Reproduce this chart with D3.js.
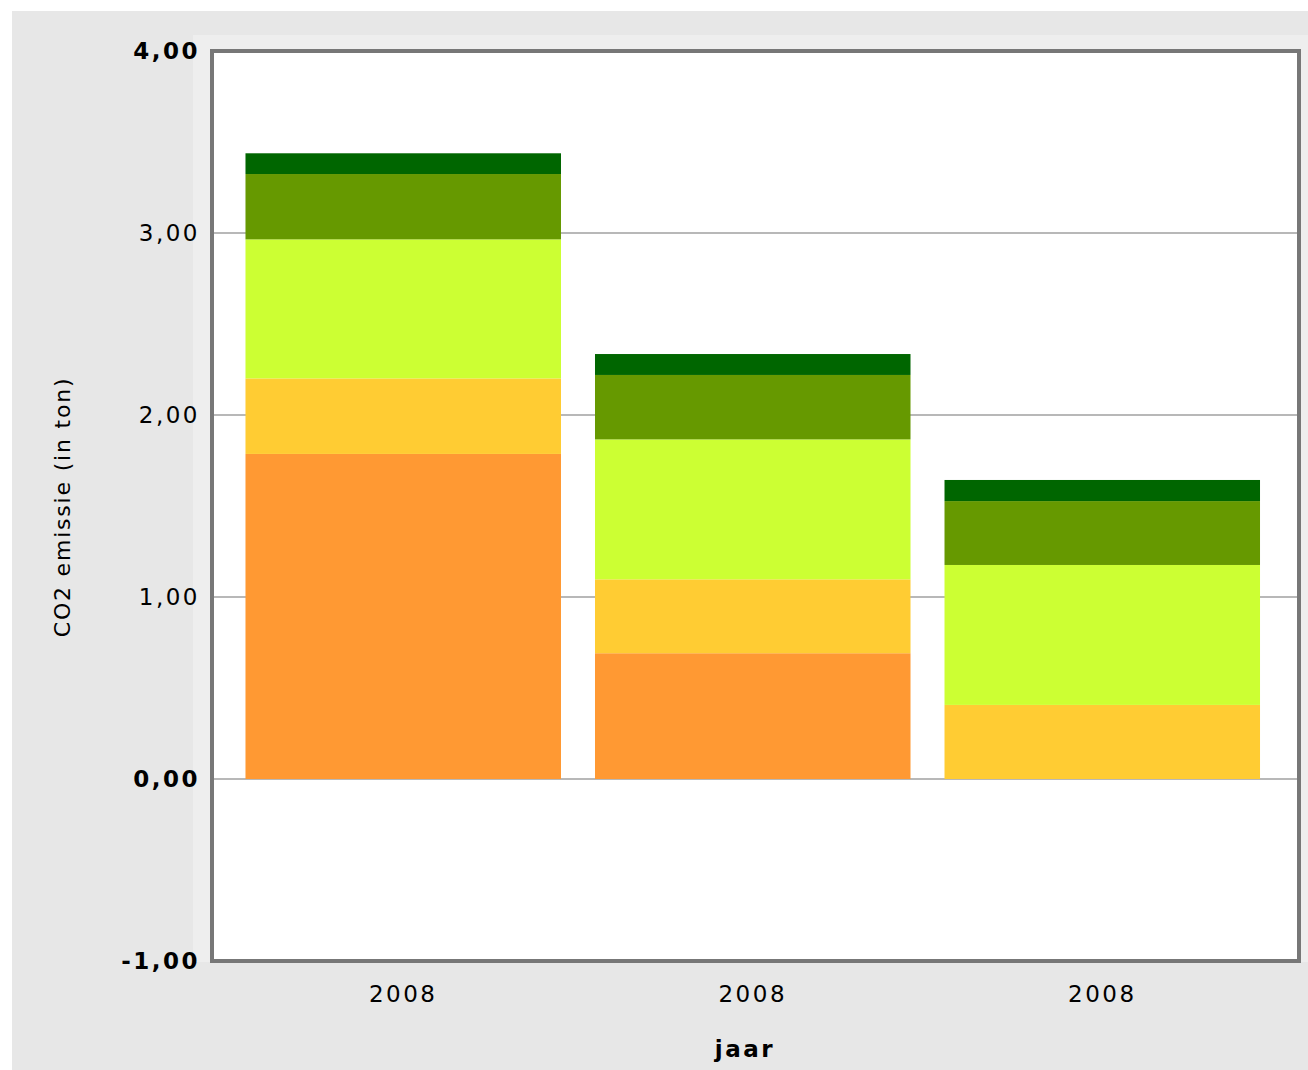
<!DOCTYPE html>
<html>
<head>
<meta charset="utf-8">
<script src="https://cdn.jsdelivr.net/npm/d3@7"></script>
<style>
  html, body { margin: 0; padding: 0; background: #ffffff; }
  svg { display: block; }
</style>
</head>
<body>
<div id="chart"></div>
<script>
// ---- data ----
const years = ["2008", "2008", "2008"];
const seriesKeys = ["oranje", "lichtoranje", "geelgroen", "olijfgroen", "donkergroen"];
const orangeVals = [1.786, 0.691, 0.0];
const lightOrangeVals = [0.415, 0.406, 0.407];
const yellowGreenVals = [0.764, 0.769, 0.769];
const oliveVals = [0.359, 0.354, 0.351];
const darkGreenVals = [0.114, 0.115, 0.116];
const yTicks = [-1, 0, 1, 2, 3, 4];
const boldTicks = [-1, 0, 4];
const gridTicks = [0, 1, 2, 3];
const colors = ["#FF9933", "#FFCC33", "#CCFF33", "#669900", "#006600"];
const xTitle = "jaar";
const yTitle = "CO2 emissie (in ton)";

const rows = years.map((yr, i) => ({
  idx: i,
  oranje: orangeVals[i],
  lichtoranje: lightOrangeVals[i],
  geelgroen: yellowGreenVals[i],
  olijfgroen: oliveVals[i],
  donkergroen: darkGreenVals[i]
}));

const W = 1308, H = 1070;
const plot = { left: 212, right: 1299, top: 51, bottom: 961 };

const svg = d3.select("#chart").append("svg")
  .attr("width", W).attr("height", H);

// panel background
svg.append("rect").attr("x", 12).attr("y", 11).attr("width", W - 12).attr("height", H - 11)
  .attr("fill", "#e7e7e7");
svg.append("rect").attr("x", 193).attr("y", 35).attr("width", W - 193).attr("height", 927)
  .attr("fill", "#eeeeee");

const x = d3.scaleBand()
  .domain(years.map((d, i) => i))
  .range([228.5, 1277])
  .paddingInner(0.0973)
  .paddingOuter(0.0486);

const y = d3.scaleLinear().domain([-1, 4]).range([plot.bottom, plot.top]);

// plot area
svg.append("rect")
  .attr("x", plot.left).attr("y", plot.top)
  .attr("width", plot.right - plot.left).attr("height", plot.bottom - plot.top)
  .attr("fill", "#ffffff");

// grid
svg.append("g").selectAll("line").data(gridTicks).join("line")
  .attr("x1", plot.left).attr("x2", plot.right)
  .attr("y1", d => y(d)).attr("y2", d => y(d))
  .attr("stroke", "#a0a0a0").attr("stroke-width", 1.5);

// stacked bars
const stacked = d3.stack().keys(seriesKeys)(rows);
svg.append("g").selectAll("g").data(stacked).join("g")
  .attr("fill", (d, i) => colors[i])
  .selectAll("rect").data(d => d).join("rect")
  .attr("x", d => x(d.data.idx))
  .attr("width", x.bandwidth())
  .attr("y", d => y(d[1]))
  .attr("height", d => Math.max(0, y(d[0]) - y(d[1])));

// border
svg.append("rect")
  .attr("x", plot.left).attr("y", plot.top)
  .attr("width", plot.right - plot.left).attr("height", plot.bottom - plot.top)
  .attr("fill", "none").attr("stroke", "#777777").attr("stroke-width", 4);

const fmt = v => d3.format(".2f")(v).replace(".", ",").replace("\u2212", "-");

// y axis
const yAxis = svg.append("g")
  .attr("transform", `translate(${plot.left - 2},0)`)
  .call(d3.axisLeft(y).tickValues(yTicks).tickFormat(fmt).tickSize(0).tickPadding(10));
yAxis.select(".domain").remove();
yAxis.selectAll("text")
  .attr("font-family", "DejaVu Sans, Verdana, sans-serif")
  .attr("font-size", 23)
  .attr("letter-spacing", 2.5)
  .attr("fill", "#000")
  .attr("font-weight", d => boldTicks.includes(d) ? "bold" : "normal");

// x axis
const xAxis = svg.append("g")
  .attr("transform", `translate(0,${plot.bottom})`)
  .call(d3.axisBottom(x).tickFormat(i => years[i]).tickSize(0).tickPadding(25));
xAxis.select(".domain").remove();
xAxis.selectAll("text")
  .attr("font-family", "DejaVu Sans, Verdana, sans-serif")
  .attr("font-size", 23)
  .attr("letter-spacing", 2.5)
  .attr("fill", "#000");

// axis titles
svg.append("text")
  .attr("x", 745).attr("y", 1057)
  .attr("text-anchor", "middle")
  .attr("font-family", "DejaVu Sans, Verdana, sans-serif")
  .attr("font-size", 23).attr("font-weight", "bold")
  .attr("letter-spacing", 2.5)
  .text(xTitle);

svg.append("text")
  .attr("transform", "translate(70,507) rotate(-90)")
  .attr("text-anchor", "middle")
  .attr("font-family", "DejaVu Sans, Verdana, sans-serif")
  .attr("font-size", 22)
  .attr("letter-spacing", 1.8)
  .text(yTitle);
</script>
</body>
</html>
